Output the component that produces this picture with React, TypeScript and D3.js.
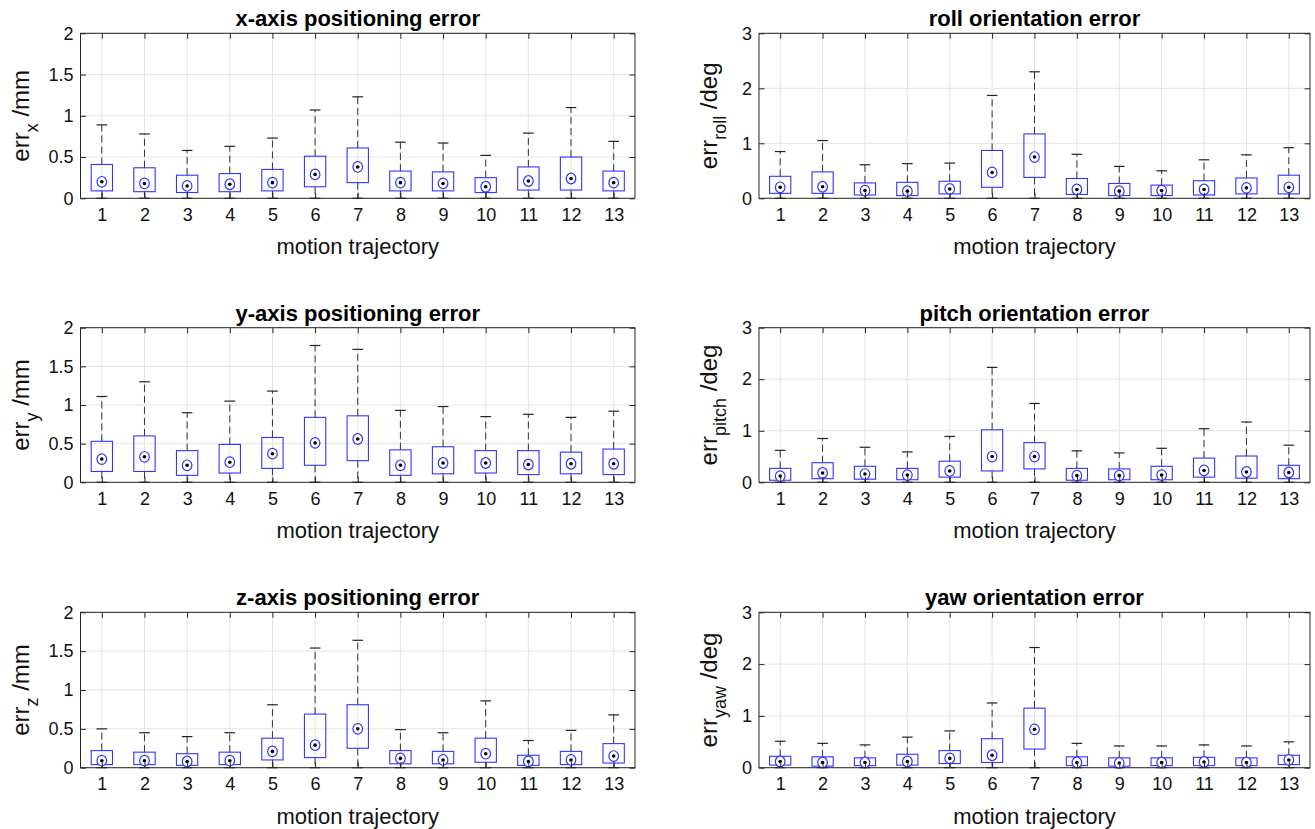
import { useEffect, useRef } from 'react';
import * as d3 from 'd3';

const trajectories = [1, 2, 3, 4, 5, 6, 7, 8, 9, 10, 11, 12, 13];

const mmTicks = [0, 0.5, 1, 1.5, 2];
const degTicks = [0, 1, 2, 3];

// each trajectory: upper whisker, 75th percentile, median, 25th percentile (lower whisker sits at 0)
const xUpper = [0.89, 0.78, 0.58, 0.63, 0.73, 1.07, 1.23, 0.68, 0.67, 0.52, 0.79, 1.1, 0.69];
const xQ3 = [0.41, 0.37, 0.28, 0.3, 0.35, 0.51, 0.61, 0.33, 0.32, 0.25, 0.38, 0.5, 0.33];
const xMed = [0.2, 0.18, 0.15, 0.17, 0.19, 0.29, 0.38, 0.19, 0.18, 0.14, 0.21, 0.24, 0.19];
const xQ1 = [0.09, 0.08, 0.07, 0.08, 0.09, 0.14, 0.19, 0.09, 0.09, 0.07, 0.1, 0.1, 0.09];

const yUpper = [1.11, 1.3, 0.9, 1.05, 1.18, 1.77, 1.72, 0.93, 0.98, 0.85, 0.88, 0.84, 0.92];
const yQ3 = [0.53, 0.6, 0.41, 0.49, 0.58, 0.84, 0.86, 0.42, 0.46, 0.41, 0.41, 0.39, 0.43];
const yMed = [0.3, 0.33, 0.22, 0.26, 0.37, 0.51, 0.56, 0.22, 0.25, 0.25, 0.23, 0.24, 0.24];
const yQ1 = [0.14, 0.14, 0.09, 0.12, 0.18, 0.22, 0.28, 0.09, 0.11, 0.12, 0.1, 0.11, 0.1];

const zUpper = [0.5, 0.45, 0.4, 0.45, 0.81, 1.54, 1.64, 0.49, 0.45, 0.86, 0.35, 0.48, 0.68];
const zQ3 = [0.22, 0.2, 0.18, 0.2, 0.38, 0.69, 0.81, 0.22, 0.21, 0.38, 0.16, 0.21, 0.31];
const zMed = [0.09, 0.09, 0.08, 0.09, 0.21, 0.29, 0.5, 0.12, 0.1, 0.18, 0.08, 0.1, 0.15];
const zQ1 = [0.04, 0.04, 0.03, 0.04, 0.1, 0.13, 0.25, 0.05, 0.05, 0.07, 0.03, 0.04, 0.06];

const rollUpper = [0.85, 1.05, 0.61, 0.63, 0.64, 1.87, 2.3, 0.8, 0.58, 0.5, 0.7, 0.79, 0.92];
const rollQ3 = [0.4, 0.48, 0.28, 0.29, 0.31, 0.87, 1.17, 0.36, 0.27, 0.24, 0.32, 0.37, 0.42];
const rollMed = [0.2, 0.21, 0.14, 0.13, 0.17, 0.47, 0.75, 0.16, 0.13, 0.14, 0.16, 0.19, 0.2];
const rollQ1 = [0.09, 0.09, 0.06, 0.05, 0.08, 0.2, 0.38, 0.07, 0.05, 0.05, 0.06, 0.08, 0.08];

const pitchUpper = [0.62, 0.85, 0.68, 0.59, 0.89, 2.23, 1.53, 0.61, 0.57, 0.66, 1.04, 1.17, 0.72];
const pitchQ3 = [0.27, 0.38, 0.31, 0.27, 0.41, 1.02, 0.77, 0.27, 0.26, 0.31, 0.47, 0.51, 0.33];
const pitchMed = [0.12, 0.18, 0.16, 0.14, 0.22, 0.5, 0.5, 0.13, 0.13, 0.14, 0.23, 0.2, 0.19];
const pitchQ1 = [0.04, 0.07, 0.06, 0.05, 0.1, 0.22, 0.26, 0.04, 0.05, 0.05, 0.1, 0.08, 0.07];

const yawUpper = [0.51, 0.47, 0.44, 0.59, 0.71, 1.25, 2.32, 0.47, 0.42, 0.42, 0.44, 0.42, 0.5];
const yawQ3 = [0.22, 0.21, 0.19, 0.26, 0.33, 0.56, 1.15, 0.21, 0.19, 0.19, 0.2, 0.19, 0.24];
const yawMed = [0.12, 0.1, 0.1, 0.12, 0.18, 0.24, 0.74, 0.1, 0.09, 0.1, 0.11, 0.1, 0.15];
const yawQ1 = [0.05, 0.03, 0.04, 0.05, 0.08, 0.1, 0.36, 0.04, 0.03, 0.04, 0.04, 0.04, 0.06];

const lowerWhisker = 0;

const panels = [
  { title: 'x-axis positioning error', sub: 'x', unit: ' /mm', ticks: mmTicks, col: 0, row: 0, upper: xUpper, q3: xQ3, med: xMed, q1: xQ1 },
  { title: 'roll orientation error', sub: 'roll', unit: ' /deg', ticks: degTicks, col: 1, row: 0, upper: rollUpper, q3: rollQ3, med: rollMed, q1: rollQ1 },
  { title: 'y-axis positioning error', sub: 'y', unit: ' /mm', ticks: mmTicks, col: 0, row: 1, upper: yUpper, q3: yQ3, med: yMed, q1: yQ1 },
  { title: 'pitch orientation error', sub: 'pitch', unit: ' /deg', ticks: degTicks, col: 1, row: 1, upper: pitchUpper, q3: pitchQ3, med: pitchMed, q1: pitchQ1 },
  { title: 'z-axis positioning error', sub: 'z', unit: ' /mm', ticks: mmTicks, col: 0, row: 2, upper: zUpper, q3: zQ3, med: zMed, q1: zQ1 },
  { title: 'yaw orientation error', sub: 'yaw', unit: ' /deg', ticks: degTicks, col: 1, row: 2, upper: yawUpper, q3: yawQ3, med: yawMed, q1: yawQ1 },
];

const W = 1315;
const H = 829;
const FONT = '"Liberation Sans", Arial, Helvetica, sans-serif';
const AXIS_COLOR = '#262626';
const GRID_COLOR = '#e3e3e3';
const BOX_COLOR = '#3434ff';

// plot area bounds per column / row
const colX = [
  [80.5, 635],
  [759, 1310],
];
const rowY = [
  [33.3, 198.3],
  [327.7, 482.3],
  [612.3, 767.7],
];
const ylabelX = [29, 717];

function App() {
  const svgRef = useRef(null);

  useEffect(() => {
    const svg = d3.select(svgRef.current);
    svg.selectAll('*').remove();

    panels.forEach((p) => {
      const [x0, x1] = colX[p.col];
      const [yt, yb] = rowY[p.row];
      const g = svg.append('g');

      const x = d3.scaleLinear().domain([0.5, 13.5]).range([x0, x1]);
      const y = d3
        .scaleLinear()
        .domain([0, p.ticks[p.ticks.length - 1]])
        .range([yb, yt]);

      // grid
      g.selectAll('line.vgrid')
        .data(trajectories)
        .enter()
        .append('line')
        .attr('x1', (d) => x(d))
        .attr('x2', (d) => x(d))
        .attr('y1', yt)
        .attr('y2', yb)
        .attr('stroke', GRID_COLOR)
        .attr('stroke-width', 1);

      g.selectAll('line.hgrid')
        .data(p.ticks)
        .enter()
        .append('line')
        .attr('x1', x0)
        .attr('x2', x1)
        .attr('y1', (d) => y(d))
        .attr('y2', (d) => y(d))
        .attr('stroke', GRID_COLOR)
        .attr('stroke-width', 1);

      const boxW = 0.5;
      const capW = 0.25;

      const items = trajectories.map((t, i) => ({
        t,
        upper: p.upper[i],
        q3: p.q3[i],
        med: p.med[i],
        q1: p.q1[i],
      }));

      const bg = g.selectAll('g.box').data(items).enter().append('g');

      // whiskers (dashed)
      bg.append('line')
        .attr('x1', (d) => x(d.t))
        .attr('x2', (d) => x(d.t))
        .attr('y1', (d) => y(d.q3))
        .attr('y2', (d) => y(d.upper))
        .attr('stroke', '#333')
        .attr('stroke-width', 1)
        .attr('stroke-dasharray', '7 4');
      bg.append('line')
        .attr('x1', (d) => x(d.t))
        .attr('x2', (d) => x(d.t))
        .attr('y1', (d) => y(d.q1))
        .attr('y2', () => y(lowerWhisker))
        .attr('stroke', '#333')
        .attr('stroke-width', 1)
        .attr('stroke-dasharray', '7 4');

      // caps
      bg.append('line')
        .attr('x1', (d) => x(d.t - capW / 2))
        .attr('x2', (d) => x(d.t + capW / 2))
        .attr('y1', (d) => y(d.upper))
        .attr('y2', (d) => y(d.upper))
        .attr('stroke', '#222')
        .attr('stroke-width', 1.2);
      bg.append('line')
        .attr('x1', (d) => x(d.t - capW / 2))
        .attr('x2', (d) => x(d.t + capW / 2))
        .attr('y1', () => y(lowerWhisker))
        .attr('y2', () => y(lowerWhisker))
        .attr('stroke', '#222')
        .attr('stroke-width', 1.2);

      // box
      bg.append('rect')
        .attr('x', (d) => x(d.t - boxW / 2))
        .attr('y', (d) => y(d.q3))
        .attr('width', x(boxW) - x(0))
        .attr('height', (d) => y(d.q1) - y(d.q3))
        .attr('fill', 'none')
        .attr('stroke', BOX_COLOR)
        .attr('stroke-width', 1.1);

      // median target
      bg.append('ellipse')
        .attr('cx', (d) => x(d.t))
        .attr('cy', (d) => y(d.med))
        .attr('rx', 4.8)
        .attr('ry', 5.3)
        .attr('fill', '#fff')
        .attr('stroke', BOX_COLOR)
        .attr('stroke-width', 1.2);
      bg.append('circle')
        .attr('cx', (d) => x(d.t))
        .attr('cy', (d) => y(d.med))
        .attr('r', 1.8)
        .attr('fill', '#000');

      // axes with inward ticks
      const styleAxis = (sel) => {
        sel.select('.domain').remove();
        sel.attr('font-family', FONT).attr('font-size', 18);
        sel.selectAll('line').attr('stroke', AXIS_COLOR);
        sel.selectAll('text').attr('fill', '#111');
      };

      g.append('g')
        .attr('transform', `translate(${x0},0)`)
        .call(d3.axisLeft(y).tickValues(p.ticks).tickSize(-5.5).tickPadding(7).tickFormat(d3.format('')))
        .call(styleAxis);
      g.append('g')
        .attr('transform', `translate(${x1},0)`)
        .call(d3.axisRight(y).tickValues(p.ticks).tickSize(-5.5).tickFormat(() => ''))
        .call(styleAxis);
      g.append('g')
        .attr('transform', `translate(0,${yb})`)
        .call(d3.axisBottom(x).tickValues(trajectories).tickSize(-5.5).tickPadding(10).tickFormat(d3.format('d')))
        .call(styleAxis);
      g.append('g')
        .attr('transform', `translate(0,${yt})`)
        .call(d3.axisTop(x).tickValues(trajectories).tickSize(-5.5).tickFormat(() => ''))
        .call(styleAxis);

      // frame
      g.append('rect')
        .attr('x', x0)
        .attr('y', yt)
        .attr('width', x1 - x0)
        .attr('height', yb - yt)
        .attr('fill', 'none')
        .attr('stroke', AXIS_COLOR)
        .attr('stroke-width', 1);

      // title
      g.append('text')
        .attr('x', (x0 + x1) / 2)
        .attr('y', yt - 7)
        .attr('text-anchor', 'middle')
        .attr('font-family', FONT)
        .attr('font-size', 22)
        .attr('font-weight', 'bold')
        .attr('fill', '#000')
        .text(p.title);

      // x label
      g.append('text')
        .attr('x', (x0 + x1) / 2)
        .attr('y', yb + 56)
        .attr('text-anchor', 'middle')
        .attr('font-family', FONT)
        .attr('font-size', 22)
        .attr('fill', '#111')
        .text('motion trajectory');

      // y label: err_sub /unit
      const yl = g
        .append('text')
        .attr('transform', `translate(${ylabelX[p.col]},${(yt + yb) / 2}) rotate(-90)`)
        .attr('text-anchor', 'middle')
        .attr('font-family', FONT)
        .attr('font-size', 24)
        .attr('fill', '#111');
      yl.append('tspan').text('err');
      yl.append('tspan').attr('font-size', 18).attr('dy', 9).text(p.sub);
      yl.append('tspan').attr('dy', -9).text(p.unit);
    });
  }, []);

  return (
    <div style={{ position: 'absolute', left: 0, top: 0, background: '#fff' }}>
      <svg ref={svgRef} width={W} height={H} style={{ display: 'block', background: '#fff' }} />
    </div>
  );
}

export default App;
